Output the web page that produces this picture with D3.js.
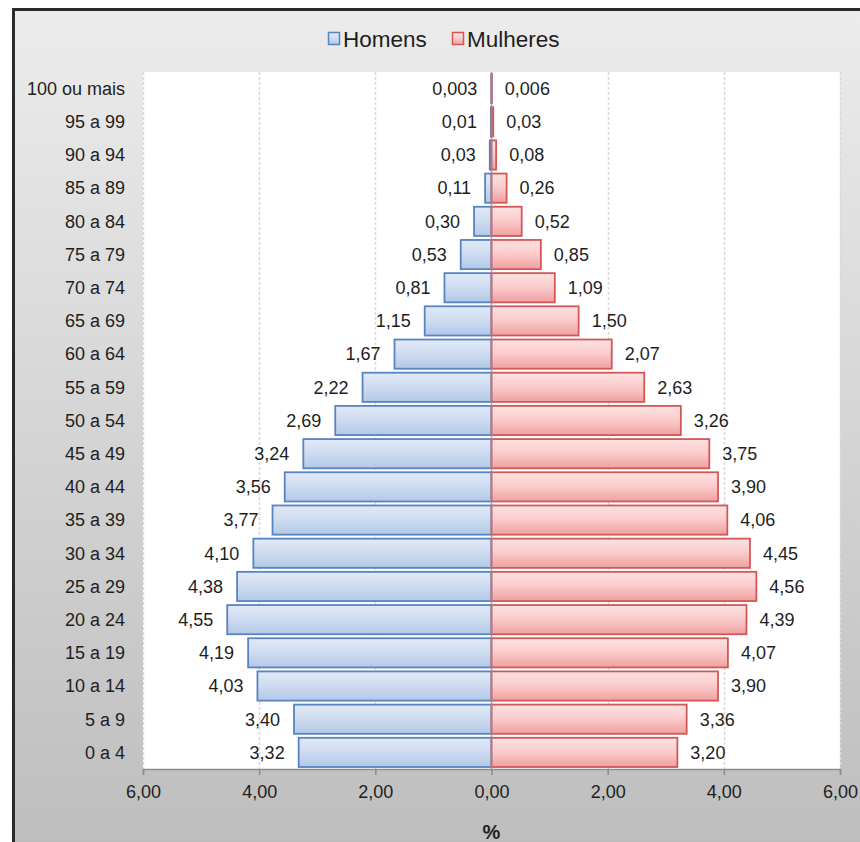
<!DOCTYPE html>
<html>
<head>
<meta charset="utf-8">
<script src="https://cdn.jsdelivr.net/npm/d3@7"></script>
<style>
  html, body { margin: 0; padding: 0; background: #fff; }
  svg { display: block; font-family: "Liberation Sans", Arial, sans-serif; }
</style>
</head>
<body>
<svg id="chart" width="860" height="842"></svg>
<script>
const categories = ["100 ou mais","95 a 99","90 a 94","85 a 89","80 a 84","75 a 79","70 a 74","65 a 69","60 a 64","55 a 59","50 a 54","45 a 49","40 a 44","35 a 39","30 a 34","25 a 29","20 a 24","15 a 19","10 a 14","5 a 9","0 a 4"];
const homens = [0.003,0.01,0.03,0.11,0.30,0.53,0.81,1.15,1.67,2.22,2.69,3.24,3.56,3.77,4.10,4.38,4.55,4.19,4.03,3.40,3.32];
const mulheres = [0.006,0.03,0.08,0.26,0.52,0.85,1.09,1.50,2.07,2.63,3.26,3.75,3.90,4.06,4.45,4.56,4.39,4.07,3.90,3.36,3.20];
const homensLabels = ["0,003","0,01","0,03","0,11","0,30","0,53","0,81","1,15","1,67","2,22","2,69","3,24","3,56","3,77","4,10","4,38","4,55","4,19","4,03","3,40","3,32"];
const mulheresLabels = ["0,006","0,03","0,08","0,26","0,52","0,85","1,09","1,50","2,07","2,63","3,26","3,75","3,90","4,06","4,45","4,56","4,39","4,07","3,90","3,36","3,20"];
const tickValues = [-6,-4,-2,0,2,4,6];
const tickLabels = ["6,00","4,00","2,00","0,00","2,00","4,00","6,00"];
const seriesNames = ["Homens","Mulheres"];
const axisTitle = "%";

const svg = d3.select("#chart");
const W = 860, H = 842;
const plot = {left: 143, right: 840, top: 72, bottom: 769};

const defs = svg.append("defs");
const bg = defs.append("linearGradient").attr("id","bg").attr("x1",0).attr("y1",0).attr("x2",0).attr("y2",1);
bg.append("stop").attr("offset","0%").attr("stop-color","#ececec");
bg.append("stop").attr("offset","100%").attr("stop-color","#bebebe");
const gb = defs.append("linearGradient").attr("id","gBlue").attr("x1",0).attr("y1",0).attr("x2",0).attr("y2",1);
gb.append("stop").attr("offset","0%").attr("stop-color","#e1eaf6");
gb.append("stop").attr("offset","45%").attr("stop-color","#d0ddf1");
gb.append("stop").attr("offset","100%").attr("stop-color","#b3c8e6");
const gr = defs.append("linearGradient").attr("id","gRed").attr("x1",0).attr("y1",0).attr("x2",0).attr("y2",1);
gr.append("stop").attr("offset","0%").attr("stop-color","#fde2e2");
gr.append("stop").attr("offset","45%").attr("stop-color","#fbcdcd");
gr.append("stop").attr("offset","100%").attr("stop-color","#f0a0a0");

// background
svg.append("rect").attr("x",0).attr("y",0).attr("width",W).attr("height",H).attr("fill","#fff");
svg.append("rect").attr("x",13).attr("y",9).attr("width",W-13).attr("height",H-9).attr("fill","url(#bg)");
svg.append("path").attr("d",`M13.5,${H} L13.5,9.5 L${W},9.5`).attr("fill","none").attr("stroke","#2b2b2b").attr("stroke-width",3);

// plot area
svg.append("rect").attr("x",plot.left).attr("y",plot.top).attr("width",plot.right-plot.left).attr("height",plot.bottom-plot.top).attr("fill","#fff");

const x = d3.scaleLinear().domain([-6,6]).range([plot.left, plot.right]);
const y = d3.scaleBand().domain(categories).range([plot.top, plot.bottom]).paddingInner(0.09).paddingOuter(0.045);

// gridlines
svg.append("g").selectAll("line").data(tickValues.filter(d=>d!==0)).join("line")
  .attr("x1",d=>Math.round(x(d))+0.5).attr("x2",d=>Math.round(x(d))+0.5)
  .attr("y1",plot.top).attr("y2",plot.bottom)
  .attr("stroke","#d9d9d9").attr("stroke-width",1.5).attr("stroke-dasharray","3,2");

const data = categories.map((c,i)=>({c, h: homens[i], m: mulheres[i], hl: homensLabels[i], ml: mulheresLabels[i]}));

// bars
svg.append("g").selectAll("rect").data(data).join("rect")
  .attr("x",d=>x(-d.h)).attr("y",d=>y(d.c)+0.5)
  .attr("width",d=>x(0)-x(-d.h)).attr("height",y.bandwidth()-1)
  .attr("fill","url(#gBlue)").attr("stroke","#5884c2").attr("stroke-width",1.8);
svg.append("g").selectAll("rect").data(data).join("rect")
  .attr("x",x(0)).attr("y",d=>y(d.c)+0.5)
  .attr("width",d=>x(d.m)-x(0)).attr("height",y.bandwidth()-1)
  .attr("fill","url(#gRed)").attr("stroke","#d25858").attr("stroke-width",1.8);

// zero line
svg.append("line").attr("x1",x(0)).attr("x2",x(0)).attr("y1",plot.top).attr("y2",plot.bottom)
  .attr("stroke","#7f93b0").attr("stroke-width",1.5).attr("opacity",0.8);

// value labels
svg.append("g").selectAll("text").data(data).join("text")
  .attr("x",d=>x(-d.h)-14).attr("y",d=>y(d.c)+y.bandwidth()/2)
  .attr("dy","0.35em").attr("text-anchor","end").attr("font-size",18).attr("fill","#1e1e1e")
  .text(d=>d.hl);
svg.append("g").selectAll("text").data(data).join("text")
  .attr("x",d=>x(d.m)+13).attr("y",d=>y(d.c)+y.bandwidth()/2)
  .attr("dy","0.35em").attr("text-anchor","start").attr("font-size",18).attr("fill","#1e1e1e")
  .text(d=>d.ml);

// category labels
svg.append("g").selectAll("text").data(categories).join("text")
  .attr("x",125).attr("y",d=>y(d)+y.bandwidth()/2)
  .attr("dy","0.35em").attr("text-anchor","end").attr("font-size",18).attr("fill","#1e1e1e")
  .text(d=>d);

// x axis
const xAxis = d3.axisBottom(x).tickValues(tickValues).tickFormat((d,i)=>tickLabels[i]).tickSize(6).tickPadding(10);
const ax = svg.append("g").attr("transform",`translate(0,${plot.bottom})`).call(xAxis);
ax.select(".domain").attr("stroke","#8c8c8c").attr("stroke-width",1.5);
ax.selectAll(".tick line").attr("stroke","#8c8c8c").attr("stroke-width",1.5);
ax.selectAll(".tick text").attr("font-size",18).attr("fill","#1e1e1e").attr("font-family","Liberation Sans, Arial, sans-serif");

svg.append("text").attr("x",x(0)).attr("y",839).attr("text-anchor","middle")
  .attr("font-size",20).attr("font-weight","bold").attr("fill","#1e1e1e").text(axisTitle);

// legend
const legend = svg.append("g").attr("transform","translate(328,32)");
const lg = [{n: seriesNames[0], fill:"url(#gBlue)", stroke:"#5884c2", x:0},{n: seriesNames[1], fill:"url(#gRed)", stroke:"#d25858", x:124}];
const li = legend.selectAll("g").data(lg).join("g").attr("transform",d=>`translate(${d.x},0)`);
li.append("rect").attr("x",0.5).attr("y",0.5).attr("width",11).attr("height",12).attr("fill",d=>d.fill).attr("stroke",d=>d.stroke).attr("stroke-width",1.5);
li.append("text").attr("x",15).attr("y",15).attr("font-size",22.5).attr("fill","#1e1e1e").text(d=>d.n);
</script>
</body>
</html>
